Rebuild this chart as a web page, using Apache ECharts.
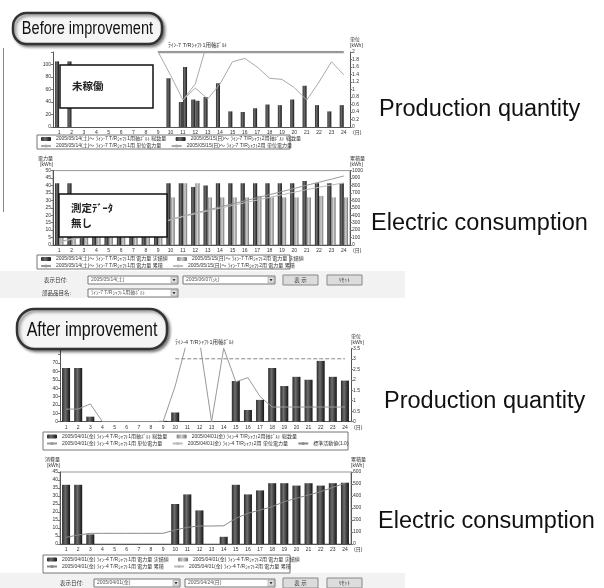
<!DOCTYPE html>
<html>
<head>
<meta charset="utf-8">
<script src="https://cdn.jsdelivr.net/npm/echarts@6/dist/echarts.min.js"></script>
<style>
html, body { margin: 0; padding: 0; background: #fff; }
#chart { width: 604px; height: 588px; }
</style>
</head>
<body>
<div id="chart"></div>
<script>
// days of the month on every chart
var days = ['1', '2', '3', '4', '5', '6', '7', '8', '9', '10', '11', '12',
    '13', '14', '15', '16', '17', '18', '19', '20', '21', '22', '23', '24'];

// before improvement - production quantity
var beforeQtyA = [105, 105, 0, 0, 0, 0, 0, 0, 0, 78, 40, 44, 48, 70, 25, 24, 30, 36, 35, 44, 66, 35, 25, 35];
var beforeQtyB = [0, 0, 0, 0, 0, 0, 0, 0, 0, 0, 96, 42, 0, 0, 0, 0, 0, 0, 0, 0, 0, 0, 0, 0];
var beforeRateA = [2.3, 2.3, 2.3, 2.3, 2.3, 2.3, 2.3, 2.3, 2.0, 1.38, 0.72, 1.15, 2.3, 2.3, 2.3, 2.3, 2.3, 2.3, 2.3, 2.3, 2.3, 2.3, 2.3, 2.3];
var beforeRateB = ['-', '-', '-', '-', '-', '-', '-', '-', '-', '-', 0.72, 1.04, 0.75, 1.15, 1.74, 1.83, 1.6, 1.3, 1.27, 1.05, 0.72, 1.2, 1.74, 1.39];
var beforeStd = ['-', '-', '-', '-', '-', '-', '-', '-', 2, 2, 2, 2, 2, 2, 2, 2, 2, 2, 2, 2, 2, 2, 2, 2];

// before improvement - electric consumption
var beforeElecA = [41.5, 41.5, 30, 30, 30, 30, 30, 30, 30, 41.5, 41.5, 39, 40, 41.5, 41.5, 41.5, 41.5, 41.5, 41.5, 41.5, 43, 41.5, 41.5, 41.5];
var beforeElecB = [32, 30, 28, 28, 28, 28, 28, 28, 28, 32, 41.5, 41.5, 32, 32, 32, 32, 33, 32, 32, 32, 32, 33, 32, 32];
var beforeSumA = [41, 83, 113, 143, 173, 203, 233, 263, 295, 342, 388, 430, 470, 512, 553, 594, 636, 677, 718, 760, 803, 844, 885, 927];
var beforeSumB = [38, 76, 106, 136, 166, 196, 226, 256, 288, 338, 380, 420, 458, 496, 532, 568, 604, 640, 676, 710, 744, 776, 806, 835];

// after improvement - production quantity
var afterQtyA = [64, 64, 6, 0, 0, 0, 0, 0, 1, 11, 0, 0, 0, 0, 48.5, 14, 26, 64, 42.5, 53.5, 50, 72.5, 53.5, 49];
var afterQtyB = [];
var afterRateA = [0.6, 0.6, 0.85, 0, 0, 0, 0, 0, 0, 1.7, 3.9, 3.9, 0, 3.5, 1.9, 2.1, 1.2, 0.7, 0.7, 0.7, 0.7, 0.7, 0.7, 0.7];
var afterRateB = [];
var afterStd = ['-', '-', '-', '-', '-', '-', '-', '-', '-', 3, 3, 3, 3, 3, 3, 3, 3, 3, 3, 3, 3, 3, 3, 3];

// after improvement - electric consumption
var afterElecA = [37, 37, 6, 0, 0, 0, 0, 0, 0, 25, 31, 21, 0, 4.5, 37, 31, 33.5, 38, 38, 36.5, 38, 36.5, 38, 38.3];
var afterElecB = [];
var afterSumA = [56, 75, 89, 89, 89, 89, 89, 89, 89, 117, 139, 150, 150, 152, 214, 256, 283, 311, 353, 381, 408, 436, 472, 506];
var afterSumB = [];

var FONT = "'Liberation Sans', 'Noto Sans CJK JP', sans-serif";

var darkBar = new echarts.graphic.LinearGradient(0, 0, 1, 0, [
    { offset: 0, color: '#2a2a2a' }, { offset: 0.4, color: '#6e6e6e' }, { offset: 1, color: '#141414' }
]);
var lightBar = new echarts.graphic.LinearGradient(0, 0, 1, 0, [
    { offset: 0, color: '#808080' }, { offset: 0.5, color: '#d2d2d2' }, { offset: 1, color: '#6e6e6e' }
]);

var catAxis = function (grid) {
    return {
        type: 'category', gridIndex: grid, data: days, boundaryGap: true,
        axisLine: { lineStyle: { color: '#555', width: 1 } },
        axisTick: { length: 2, alignWithLabel: true, lineStyle: { color: '#777' } },
        axisLabel: { fontSize: 5, color: '#333', margin: 3, interval: 0 },
        name: '(日)', nameLocation: 'end', nameGap: 3,
        nameTextStyle: { fontSize: 5, color: '#333', verticalAlign: 'top', padding: [3, 0, 0, 0] }
    };
};

var valAxis = function (grid, pos, max, step, name, hideAbove) {
    return {
        type: 'value', gridIndex: grid, position: pos, min: 0, max: max, interval: step,
        axisLine: { show: true, lineStyle: { color: '#555', width: 1 } },
        axisTick: { show: true, length: 2, lineStyle: { color: '#777' } },
        splitLine: { show: false },
        axisLabel: {
            fontSize: 5, color: '#333', margin: 2,
            formatter: function (v) { return (hideAbove != null && v > hideAbove) ? '' : v; }
        },
        name: name, nameLocation: 'end', nameGap: 3,
        nameTextStyle: { fontSize: 5, color: '#333', lineHeight: 6, align: pos == 'left' ? 'right' : 'left' }
    };
};

var bar = function (name, x, y, data, color, w, gap) {
    return {
        type: 'bar', name: name, xAxisIndex: x, yAxisIndex: y, data: data,
        barWidth: w, barGap: gap, itemStyle: { color: color }, emphasis: { disabled: true }
    };
};

var line = function (name, x, y, data, color, width, dash) {
    return {
        type: 'line', name: name, xAxisIndex: x, yAxisIndex: y, data: data,
        symbol: 'none', showSymbol: false, clip: true,
        lineStyle: { color: color, width: width, type: dash || 'solid' },
        itemStyle: { color: color }, emphasis: { disabled: true }
    };
};

var legendBox = function (left, top, names) {
    return {
        left: left, top: top, data: names, orient: 'horizontal',
        itemWidth: 10, itemHeight: 4, itemGap: 1, padding: 0, selectedMode: false,
        formatter: function (n) { return n + '      '; },
        textStyle: { fontSize: 5, color: '#333', lineHeight: 6, fontFamily: FONT }
    };
};

var inputBox = function (x, y, w, h, txt) {
    return {
        type: 'group', children: [
            { type: 'rect', shape: { x: x, y: y, width: w, height: h }, style: { fill: '#fff', stroke: '#777', lineWidth: 1 } },
            { type: 'text', x: x + 3, y: y + h / 2, style: { text: txt, fontSize: 5, fill: '#555', verticalAlign: 'middle', fontFamily: FONT } },
            { type: 'rect', shape: { x: x + w - 7, y: y + 1, width: 6, height: h - 2 }, style: { fill: '#e2e2e2', stroke: '#888', lineWidth: 0.5 } },
            { type: 'polygon', shape: { points: [[x + w - 5.5, y + h / 2 - 1], [x + w - 2.5, y + h / 2 - 1], [x + w - 4, y + h / 2 + 1.5]] }, style: { fill: '#333' } }
        ]
    };
};

var button = function (x, y, w, h, txt) {
    return {
        type: 'group', children: [
            { type: 'rect', shape: { x: x, y: y, width: w, height: h }, style: { fill: '#dcdcdc', stroke: '#888', lineWidth: 1 } },
            { type: 'text', x: x + w / 2, y: y + h / 2, style: { text: txt, fontSize: 5.5, fill: '#333', align: 'center', verticalAlign: 'middle', fontFamily: FONT } }
        ]
    };
};

// rounded callout with condensed caption (text squeezed to the box like the narrow font in the picture)
var bubble = function (x, y, w, h, txt, size, squeeze) {
    return {
        type: 'group', children: [
            {
                type: 'rect', z: 100, shape: { x: x, y: y, width: w, height: h, r: h / 2.3 },
                style: {
                    fill: '#f5f5f5', stroke: '#333', lineWidth: 2.5,
                    shadowBlur: 3, shadowColor: 'rgba(0,0,0,0.45)', shadowOffsetX: 2, shadowOffsetY: 2
                }
            },
            {
                type: 'text', z: 101, x: x + w / 2, y: y + h / 2 + 1, scaleX: squeeze,
                style: { text: txt, fontSize: size, fill: '#111', align: 'center', verticalAlign: 'middle', fontFamily: FONT }
            }
        ]
    };
};

var noteBox = function (x, y, w, h, txt) {
    return {
        type: 'group', children: [
            { type: 'rect', z: 90, shape: { x: x, y: y, width: w, height: h }, style: { fill: '#fff', stroke: '#111', lineWidth: 1.5 } },
            { type: 'text', z: 91, x: x + 12, y: y + h / 2, style: { text: txt, fontSize: 10.5, fontWeight: 'bold', lineHeight: 15, fill: '#222', verticalAlign: 'middle', fontFamily: "'Noto Sans CJK JP', sans-serif" } }
        ]
    };
};

var bigLabel = function (x, y, txt) {
    return { type: 'text', x: x, y: y, style: { text: txt, fontSize: 23.5, fill: '#111', verticalAlign: 'middle', fontFamily: FONT } };
};

var smallText = function (x, y, txt) {
    return { type: 'text', x: x, y: y, style: { text: txt, fontSize: 5.5, fill: '#333', verticalAlign: 'middle', fontFamily: FONT } };
};

var n = {
    bqA: '2005/05/14(土)～ ﾗｲﾝ-7 T/Rｼｬﾌﾄ1用軸ﾎﾞﾙﾄ 総数量',
    bqB: '2005/05/15(日)～ ﾗｲﾝ-7 T/Rｼｬﾌﾄ2用軸ﾎﾞﾙﾄ 総数量',
    brA: '2005/05/14(土)～ ﾗｲﾝ-7 T/Rｼｬﾌﾄ1用 単位電力量',
    brB: '2005/05/15(日)～ ﾗｲﾝ-7 T/Rｼｬﾌﾄ2用 単位電力量',
    beA: '2005/05/14(土)～ ﾗｲﾝ-7 T/Rｼｬﾌﾄ1用 電力量 実績値',
    beB: '2005/05/15(日)～ ﾗｲﾝ-7 T/Rｼｬﾌﾄ2用 電力量 実績値',
    bsA: '2005/05/14(土)～ ﾗｲﾝ-7 T/Rｼｬﾌﾄ1用 電力量 累積',
    bsB: '2005/05/15(日)～ ﾗｲﾝ-7 T/Rｼｬﾌﾄ2用 電力量 累積',
    aqA: '2005/04/01(金) ﾗｲﾝ-4 T/Rｼｬﾌﾄ1用軸ﾎﾞﾙﾄ 総数量',
    aqB: '2005/04/01(金) ﾗｲﾝ-4 T/Rｼｬﾌﾄ2用軸ﾎﾞﾙﾄ 総数量',
    arA: '2005/04/01(金) ﾗｲﾝ-4 T/Rｼｬﾌﾄ1用 単位電力量',
    arB: '2005/04/01(金) ﾗｲﾝ-4 T/Rｼｬﾌﾄ2用 単位電力量',
    aStd: '標準活動値(1.0)',
    aeA: '2005/04/01(金) ﾗｲﾝ-4 T/Rｼｬﾌﾄ1用 電力量 実績値',
    aeB: '2005/04/01(金) ﾗｲﾝ-4 T/Rｼｬﾌﾄ2用 電力量 実績値',
    asA: '2005/04/01(金) ﾗｲﾝ-4 T/Rｼｬﾌﾄ1用 電力量 累積',
    asB: '2005/04/01(金) ﾗｲﾝ-4 T/Rｼｬﾌﾄ2用 電力量 累積'
};

var chart = echarts.init(document.getElementById('chart'), null, { renderer: 'canvas' });

var option = {
    animation: false,
    backgroundColor: '#fff',
    textStyle: { fontFamily: FONT },
    grid: [
        { left: 53, top: 52, width: 297, height: 75, outerBoundsMode: 'none' },
        { left: 53, top: 170.6, width: 297, height: 74.4, show: true, borderColor: '#999', borderWidth: 1, outerBoundsMode: 'none' },
        { left: 60, top: 348.3, width: 291, height: 73.4, outerBoundsMode: 'none' },
        { left: 60, top: 472, width: 291, height: 72, show: true, borderColor: '#999', borderWidth: 1, outerBoundsMode: 'none' }
    ],
    xAxis: [catAxis(0), catAxis(1), catAxis(2), catAxis(3)],
    yAxis: [
        valAxis(0, 'left', 120, 20, '', 100),
        valAxis(0, 'right', 2, 0.2, '単位\n[kWh]'),
        valAxis(1, 'left', 50, 5, '電力量\n[kWh]'),
        valAxis(1, 'right', 1000, 100, '累積量\n[kWh]'),
        valAxis(2, 'left', 87.5, 10, '', 70),
        valAxis(2, 'right', 3.5, 0.5, '単位\n[kWh]'),
        valAxis(3, 'left', 45, 5, '消費量\n[kWh]'),
        valAxis(3, 'right', 600, 100, '累積量\n[kWh]')
    ],
    legend: [
        legendBox(40, 136, [n.bqA, n.bqB, '', n.brA, n.brB]),
        legendBox(40, 256, [n.beA, n.beB, '', n.bsA, n.bsB]),
        legendBox(46, 433.5, [n.aqA, n.aqB, '', n.arA, n.arB, n.aStd]),
        legendBox(46, 556.5, [n.aeA, n.aeB, '', n.asA, n.asB])
    ],
    series: [
        bar(n.bqA, 0, 0, beforeQtyA, darkBar, 4, '5%'),
        bar(n.bqB, 0, 0, beforeQtyB, darkBar, 4, '5%'),
        line(n.brA, 0, 1, beforeRateA, '#aaa', 1),
        line(n.brB, 0, 1, beforeRateB, '#aaa', 1),
        line('標準値', 0, 1, beforeStd, '#999', 2.5),

        bar(n.beA, 1, 2, beforeElecA, darkBar, 4.2, '0%'),
        bar(n.beB, 1, 2, beforeElecB, lightBar, 4.2, '0%'),
        line(n.bsA, 1, 3, beforeSumA, '#999', 1),
        line(n.bsB, 1, 3, beforeSumB, '#bbb', 1),

        bar(n.aqA, 2, 4, afterQtyA, darkBar, 8, '-100%'),
        bar(n.aqB, 2, 4, afterQtyB, lightBar, 8, '-100%'),
        line(n.arA, 2, 5, afterRateA, '#999', 1),
        line(n.arB, 2, 5, afterRateB, '#bbb', 1),
        line(n.aStd, 2, 5, afterStd, '#888', 1, [4, 2]),

        bar(n.aeA, 3, 6, afterElecA, darkBar, 8, '-100%'),
        bar(n.aeB, 3, 6, afterElecB, lightBar, 8, '-100%'),
        line(n.asA, 3, 7, afterSumA, '#888', 1),
        line(n.asB, 3, 7, afterSumB, '#bbb', 1)
    ],
    graphic: {
        elements: [
            // grey form bands
            { type: 'rect', z: -10, shape: { x: 0, y: 271, width: 405, height: 27 }, style: { fill: '#f2f2f2' } },
            { type: 'rect', z: -10, shape: { x: 0, y: 573, width: 405, height: 15 }, style: { fill: '#f2f2f2' } },
            { type: 'line', shape: { x1: 3.5, y1: 48, x2: 3.5, y2: 212 }, style: { stroke: '#888', lineWidth: 1 } },

            // legend frames
            { type: 'rect', z: 1, shape: { x: 37, y: 135, width: 253, height: 14 }, style: { fill: '#fff', stroke: '#777', lineWidth: 1 } },
            { type: 'rect', z: 1, shape: { x: 37, y: 255, width: 253, height: 14 }, style: { fill: '#fff', stroke: '#777', lineWidth: 1 } },
            { type: 'rect', z: 1, shape: { x: 43, y: 432, width: 305, height: 18 }, style: { fill: '#fff', stroke: '#777', lineWidth: 1 } },
            { type: 'rect', z: 1, shape: { x: 43, y: 555, width: 247, height: 18 }, style: { fill: '#fff', stroke: '#777', lineWidth: 1 } },

            // chart titles
            smallText(168, 45, 'ﾗｲﾝ-7 T/Rｼｬﾌﾄ1用軸ﾎﾞﾙﾄ'),
            smallText(175, 342, 'ﾗｲﾝ-4 T/Rｼｬﾌﾄ1用軸ﾎﾞﾙﾄ'),

            // form controls - before
            smallText(44, 280, '表示日付:'),
            inputBox(88, 276, 90, 8, '2005/05/14(土)'),
            inputBox(183, 276, 92, 8, '2005/06/07(火)'),
            button(283, 275, 35, 10, '表 示'),
            button(327, 275, 35, 10, 'ﾘｾｯﾄ'),
            smallText(42, 293, '部品品目名:'),
            inputBox(88, 289, 90, 8, 'ﾗｲﾝ-7 T/Rｼｬﾌﾄ1用軸ﾎﾞﾙﾄ'),

            // form controls - after
            smallText(60, 583, '表示日付:'),
            inputBox(94, 579, 86, 8, '2005/04/01(金)'),
            inputBox(185, 579, 90, 8, '2005/04/24(日)'),
            button(283, 578, 35, 10, '表 示'),
            button(327, 578, 35, 10, 'ﾘｾｯﾄ'),

            // overlays
            noteBox(60, 65, 93, 43, '未稼働'),
            noteBox(59, 194, 108, 43, '測定ﾃﾞｰﾀ\n無し'),
            bubble(13, 13, 149, 31, 'Before improvement', 18, 0.81),
            bubble(17, 309, 150, 40, 'After improvement', 20, 0.8),

            bigLabel(379, 110, 'Production quantity'),
            bigLabel(371, 224, 'Electric consumption'),
            bigLabel(384, 402, 'Production quantity'),
            bigLabel(378, 522, 'Electric consumption')
        ]
    }
};

if (option && typeof option === 'object') {
    chart.setOption(option);
}
window.addEventListener('resize', chart.resize);
</script>
</body>
</html>
